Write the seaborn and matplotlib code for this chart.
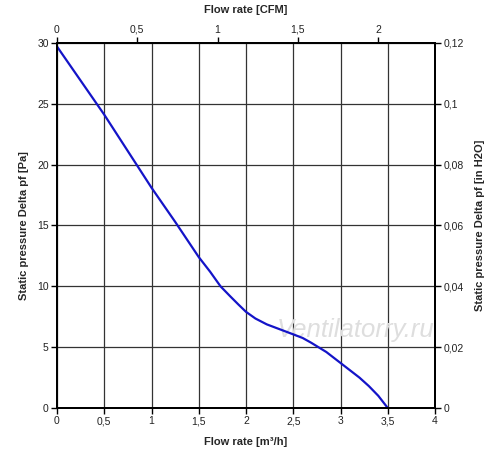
import matplotlib
matplotlib.use('Agg')
import matplotlib.pyplot as plt
import seaborn as sns
import pandas as pd
import numpy as np
from matplotlib.ticker import FuncFormatter

# Fan curve
flow_m3h = [0, 0.25, 0.5, 0.75, 1.0, 1.25, 1.5, 1.62, 1.73, 1.83, 1.92, 2.0, 2.1, 2.22,
            2.36, 2.5, 2.6, 2.69, 2.85, 3.0, 3.1, 3.2, 3.3, 3.4, 3.5]
pressure_pa = [29.7, 26.9, 24.1, 21.1, 18.1, 15.3, 12.4, 11.2, 10.0, 9.2, 8.5, 7.9, 7.35, 6.87,
               6.46, 6.05, 5.75, 5.36, 4.6, 3.7, 3.1, 2.5, 1.8, 1.0, 0]

x_ticks = [0, 0.5, 1, 1.5, 2, 2.5, 3, 3.5, 4]
y_ticks = [0, 5, 10, 15, 20, 25, 30]
cfm_ticks = [0, 0.5, 1, 1.5, 2]
inh2o_ticks = [0, 0.02, 0.04, 0.06, 0.08, 0.1, 0.12]
M3H_PER_CFM = 1.699

df = pd.DataFrame({"flow": flow_m3h, "pressure": pressure_pa})

sns.set_style('white')
plt.rcParams['font.family'] = ['Liberation Sans', 'DejaVu Sans']

comma = FuncFormatter(lambda v, p: f"{v:g}".replace('.', ','))

fig = plt.figure(figsize=(5, 4.61), dpi=100)
ax = fig.add_axes([0.114, 0.115, 0.756, 0.792])

ax.set_xlim(0, 4)
ax.set_ylim(0, 30)
ax.set_xticks(x_ticks)
ax.set_yticks(y_ticks)
ax.xaxis.set_major_formatter(comma)
ax.yaxis.set_major_formatter(comma)
ax.grid(True, color='#333333', linewidth=0.9)
ax.set_axisbelow(True)

ax.text(0.79, 0.214, "Ventilatorry.ru", transform=ax.transAxes, fontsize=18.5,
        style='italic', color='#dedede', ha='center', va='center', zorder=1.5)

sns.lineplot(data=df, x="flow", y="pressure", ax=ax, color='#1414c8', linewidth=1.6)

ax.set_xlabel("Flow rate [m³/h]", fontsize=8, fontweight='bold', labelpad=8)
ax.set_ylabel("Static pressure Delta pf [Pa]", fontsize=8, fontweight='bold', labelpad=6)

# Top axis: CFM
ax_top = ax.twiny()
ax_top.set_xlim(0, 4 / M3H_PER_CFM)
ax_top.set_xticks(cfm_ticks)
ax_top.xaxis.set_major_formatter(comma)
ax_top.set_xlabel("Flow rate [CFM]", fontsize=8, fontweight='bold', labelpad=8)

# Right axis: inches of water
ax_right = ax.twinx()
ax_right.set_ylim(0, 0.12)
ax_right.set_yticks(inh2o_ticks)
ax_right.yaxis.set_major_formatter(comma)
ax_right.set_ylabel("Static pressure Delta pf [in H2O]", fontsize=8, fontweight='bold', labelpad=8)

for a in (ax, ax_top, ax_right):
    for s in a.spines.values():
        s.set_color('black')
        s.set_linewidth(1.3)
    a.tick_params(direction='out', length=4, width=1, color='black',
                  labelsize=7.5, labelcolor='#222222', pad=2)
ax_top.grid(False)
ax_right.grid(False)

fig.savefig("out.png", dpi=100)
plt.close(fig)
